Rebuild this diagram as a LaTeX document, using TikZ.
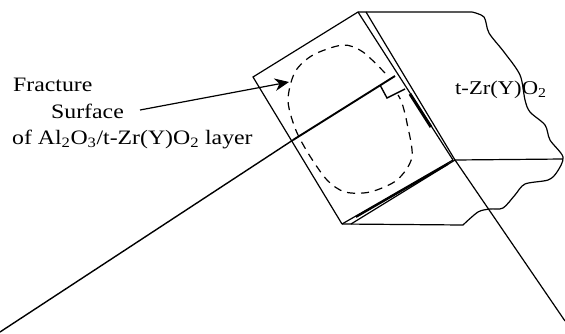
\documentclass[tikz,border=0pt]{standalone}
\usepackage{fontspec}
\setmainfont[FakeStretch=1.16]{Liberation Serif}
\usetikzlibrary{arrows.meta, calc}

\begin{document}
\begin{tikzpicture}[
    x=1pt, y=-1pt,
    >={Stealth[length=5mm, width=4.4mm]},
    edge/.style={line width=1.2pt, black},
    heavy/.style={line width=1.9pt, black},
    label/.style={font=\fontsize{20.5}{24}\selectfont, inner sep=0pt, anchor=base west},
]
\useasboundingbox (0,0) rectangle (565,333);

% === plate corners ===
\coordinate (pt) at (358,12);
\coordinate (pl) at (253,77);
\coordinate (pb) at (342,224);
\coordinate (pr) at (453,160);
\coordinate (qt) at (366,12);
\coordinate (qb) at (455,160);
\coordinate (qe) at (565,321);
\coordinate (qc) at (351,224);

% === front plate ===
\draw[edge] (pb) -- (pl) -- (pt) -- (qt);
\draw[edge] (pt) -- (pr);
\draw[edge] (qt) -- (qb) -- (qe);
\draw[edge] (pb) -- (pr);
\draw[edge] (qc) -- (qb);
\draw[line width=3pt] (410,94) -- (431,127);
\draw[heavy] (356,217) -- (448,164);

% === block outline ===
\draw[edge] (qt) -- (472,12) plot[smooth] coordinates {(472,12) (484,17) (489,33) (504,52) (520,75) (525,100) (530,112) (545,125) (550,140) (563,157) (557,172) (548,180) (525,184) (515,195) (503,208) (490,209) (478,212) (463,225)} -- (pb);
\draw[edge] (qb) -- (563,159);

% === dashed outline ===
\draw[edge, dash pattern=on 8pt off 6pt] plot[smooth] coordinates {(385,73) (363,52) (343,45) (313,55) (295,72) (288,100) (295,128) (308,153) (327,180) (345,192) (370,192) (397,180) (412,157) (407,123) (402,103) (398,95)};

% === section line and corner mark ===
\coordinate (se) at (395,76);
\coordinate (sm) at (293,140);
\coordinate (sf) at (0,332);
\draw[heavy] (se) -- (sm);
\draw[edge, line width=1.4pt] (sm) -- (sf);
\coordinate (ca) at (380,85);
\coordinate (cb) at (387,98);
\coordinate (cc) at (405,89);
\draw[heavy, line width=1.4pt] (ca) -- (cb) -- (cc);

% === labels ===
\node[label] (lf) at (13,91) {Fracture};
\node[label] (ls) at (51,118) {Surface};
\node[label] (ll) at (12,144) {of Al\textsubscript{2}O\textsubscript{3}/t-Zr(Y)O\textsubscript{2} layer};
\node[label, font=\fontsize{19.5}{24}\selectfont] (lz) at (455,94) {t-Zr(Y)O\textsubscript{2}};

\coordinate (at) at (289,82);
\coordinate (af) at (140,110);
\draw[->, edge] (af) -- (at);

\end{tikzpicture}
\end{document}
